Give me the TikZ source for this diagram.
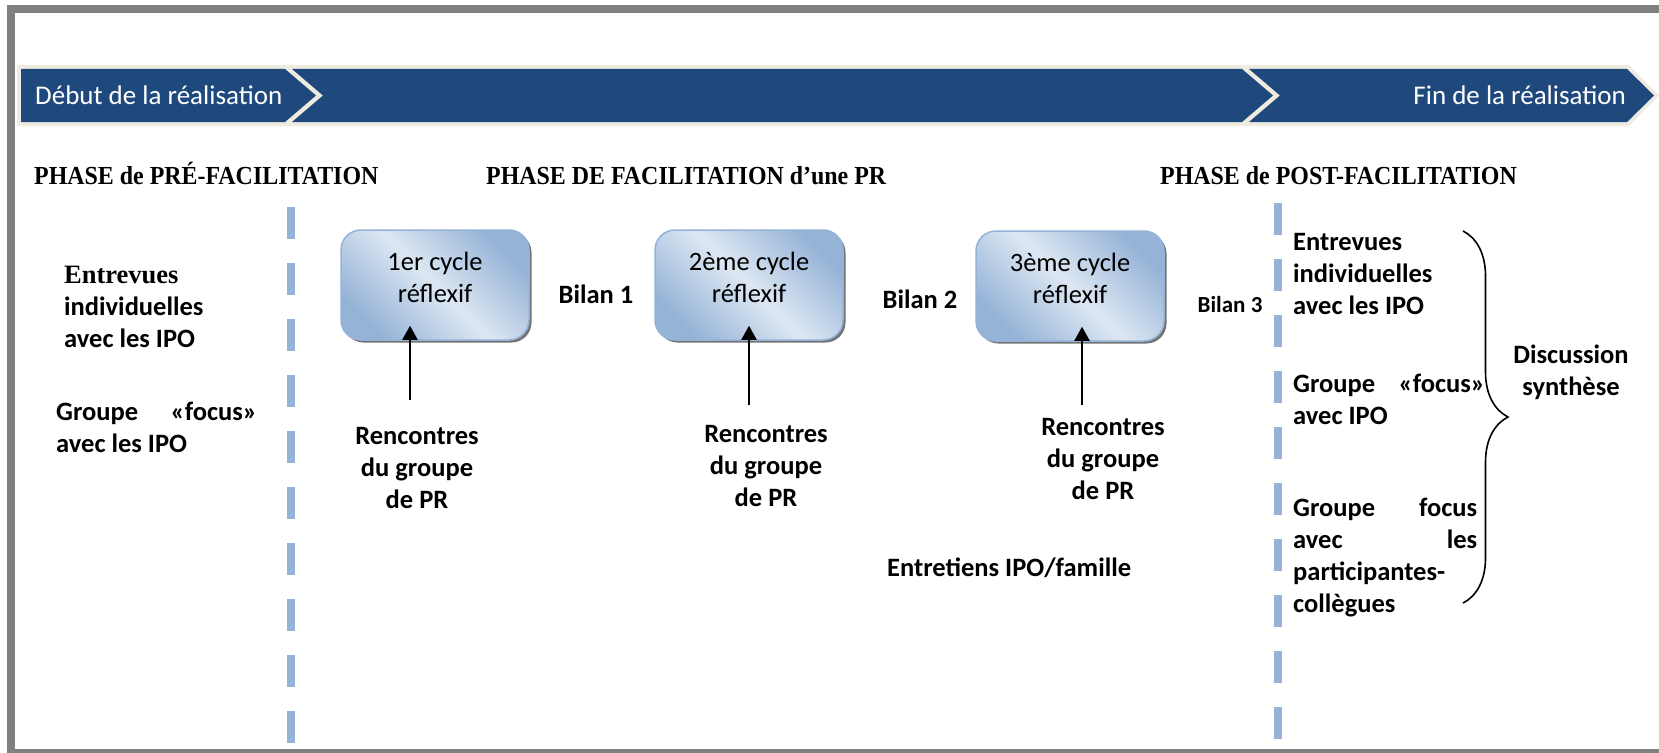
\documentclass[tikz,border=0pt]{standalone}
\usepackage{fontspec}
\setmainfont{Carlito}
\newfontfamily\tnr{Liberation Serif}
\usetikzlibrary{arrows.meta,shadows,decorations.pathreplacing}
\definecolor{bandblue}{RGB}{31,73,125}
\definecolor{cream}{RGB}{238,236,225}
\definecolor{dashblue}{RGB}{149,179,215}
\definecolor{boxdark}{RGB}{149,179,215}
\definecolor{boxlight}{RGB}{221,231,243}
\definecolor{framegray}{RGB}{128,128,128}
\begin{document}
\begin{tikzpicture}[x=1pt,y=-1pt,
  txt/.style={inner sep=0pt, font=\fontsize{26.5}{32}\selectfont},
  btxt/.style={inner sep=0pt, font=\fontsize{26.5}{32}\selectfont\bfseries},
  bandtxt/.style={inner sep=0pt, text=white, font=\fontsize{27}{32}\selectfont},
  heading/.style={inner sep=0pt, font=\fontsize{26}{32}\selectfont\tnr\bfseries, xscale=0.92, anchor=base west},
  cyclebox/.style={rectangle, rounded corners=20pt, minimum width=188pt, minimum height=110pt,
    draw=boxdark, line width=1.5pt, left color=boxdark, right color=boxdark, middle color=boxlight,
    shading angle=135, drop shadow={shadow xshift=2.5pt, shadow yshift=-2.5pt, fill=black, opacity=0.55}},
  phaseline/.style={draw=dashblue, line width=8pt, dash pattern=on 32pt off 24pt},
  arr/.style={line width=2pt, -{Triangle[length=14pt,width=15pt]}, shorten >=-15pt}
]
\useasboundingbox (0,0) rectangle (1659,752);
\fill[white] (0,0) rectangle (1659,752);
% frame
\draw[framegray, line width=8pt] (11,9) rectangle (1672,753);
% band
\fill[cream] (17,65) -- (1629,65) -- (1659,95.5) -- (1629,126) -- (17,126) -- cycle;
\fill[bandblue] (21,69) -- (285,69) -- (316,95.5) -- (285,122) -- (21,122) -- cycle;
\fill[bandblue] (292,69) -- (1242,69) -- (1273,95.5) -- (1242,122) -- (292,122) -- (323,95.5) -- cycle;
\fill[bandblue] (1249,69) -- (1627,69) -- (1654,95.5) -- (1627,122) -- (1249,122) -- (1280,95.5) -- cycle;
\node[bandtxt, anchor=west] (debut) at (35,95.5) {Début de la réalisation};
\node[bandtxt, anchor=east] (fin) at (1626,95.5) {Fin de la réalisation};
% headings
\node[heading] (h1) at (34,184) {PHASE de PRÉ-FACILITATION};
\node[heading] (h2) at (486,184) {PHASE DE FACILITATION d’une PR};
\node[heading] (h3) at (1160,184) {PHASE de POST-FACILITATION};
% phase separators
\draw[phaseline] (291,207) -- (291,743);
\draw[phaseline] (1278,203) -- (1278,739);
% left column
\node[btxt, anchor=north west, align=left] (preA) at (64,266)
  {{\tnr Entrevues}\\individuelles\\avec les IPO};
\node[btxt, anchor=north west, align=left] (preB) at (56,401.5)
  {\makebox[201pt][s]{Groupe «focus»}\\avec les IPO};
% cycle boxes
\node[cyclebox] (b1) at (435,285) {};
\node[cyclebox] (b2) at (749,285) {};
\node[cyclebox] (b3) at (1070,286) {};
\node[txt, align=center, yshift=8pt] (t1) at (b1.center) {1er cycle\\réflexif};
\node[txt, align=center, yshift=8pt] (t2) at (b2.center) {2ème cycle\\réflexif};
\node[txt, align=center, yshift=8pt] (t3) at (b3.center) {3ème cycle\\réflexif};
% bilans
\node[btxt] (bil1) at (596,294) {Bilan 1};
\node[btxt] (bil2) at (920,299) {Bilan 2};
\node[btxt, font=\fontsize{23}{28}\selectfont\bfseries] (bil3) at (1230,305) {Bilan 3};
% rencontres
\node[btxt, anchor=north, align=center] (r1) at (417,427.5) {Rencontres\\du groupe\\de PR};
\node[btxt, anchor=north, align=center] (r2) at (766,425.5) {Rencontres\\du groupe\\de PR};
\node[btxt, anchor=north, align=center] (r3) at (1103,418.5) {Rencontres\\du groupe\\de PR};
\coordinate (a1) at (410,400);
\coordinate (a2) at (749,405);
\coordinate (a3) at (1082,405);
\draw[arr] (a1) -- (a1 |- b1.south);
\draw[arr] (a2) -- (a2 |- b2.south);
\draw[arr] (a3) -- (a3 |- b3.south);
\node[btxt, anchor=base west] (ent) at (887,576.5) {Entretiens IPO/famille};
% right column
\node[btxt, anchor=north west, align=left] (postA) at (1293,233.5)
  {Entrevues\\individuelles\\avec les IPO};
\node[btxt, anchor=north west, align=left] (postB) at (1293,373.5)
  {\makebox[192pt][s]{Groupe «focus»}\\avec IPO};
\node[btxt, anchor=north west, align=left] (postC) at (1293,497.5)
  {\makebox[184pt][s]{Groupe focus}\\\makebox[184pt][s]{avec les}\\participantes-\\collègues};
\coordinate (brtop) at (1463,231);
\coordinate (brbot) at (1463,603);
\draw[decorate, decoration={brace, amplitude=45pt}, line width=1.6pt] (brtop) -- (brbot);
\node[btxt, anchor=north, align=center] (disc) at (1571,344.5) {Discussion\\synthèse};
\end{tikzpicture}
\end{document}
